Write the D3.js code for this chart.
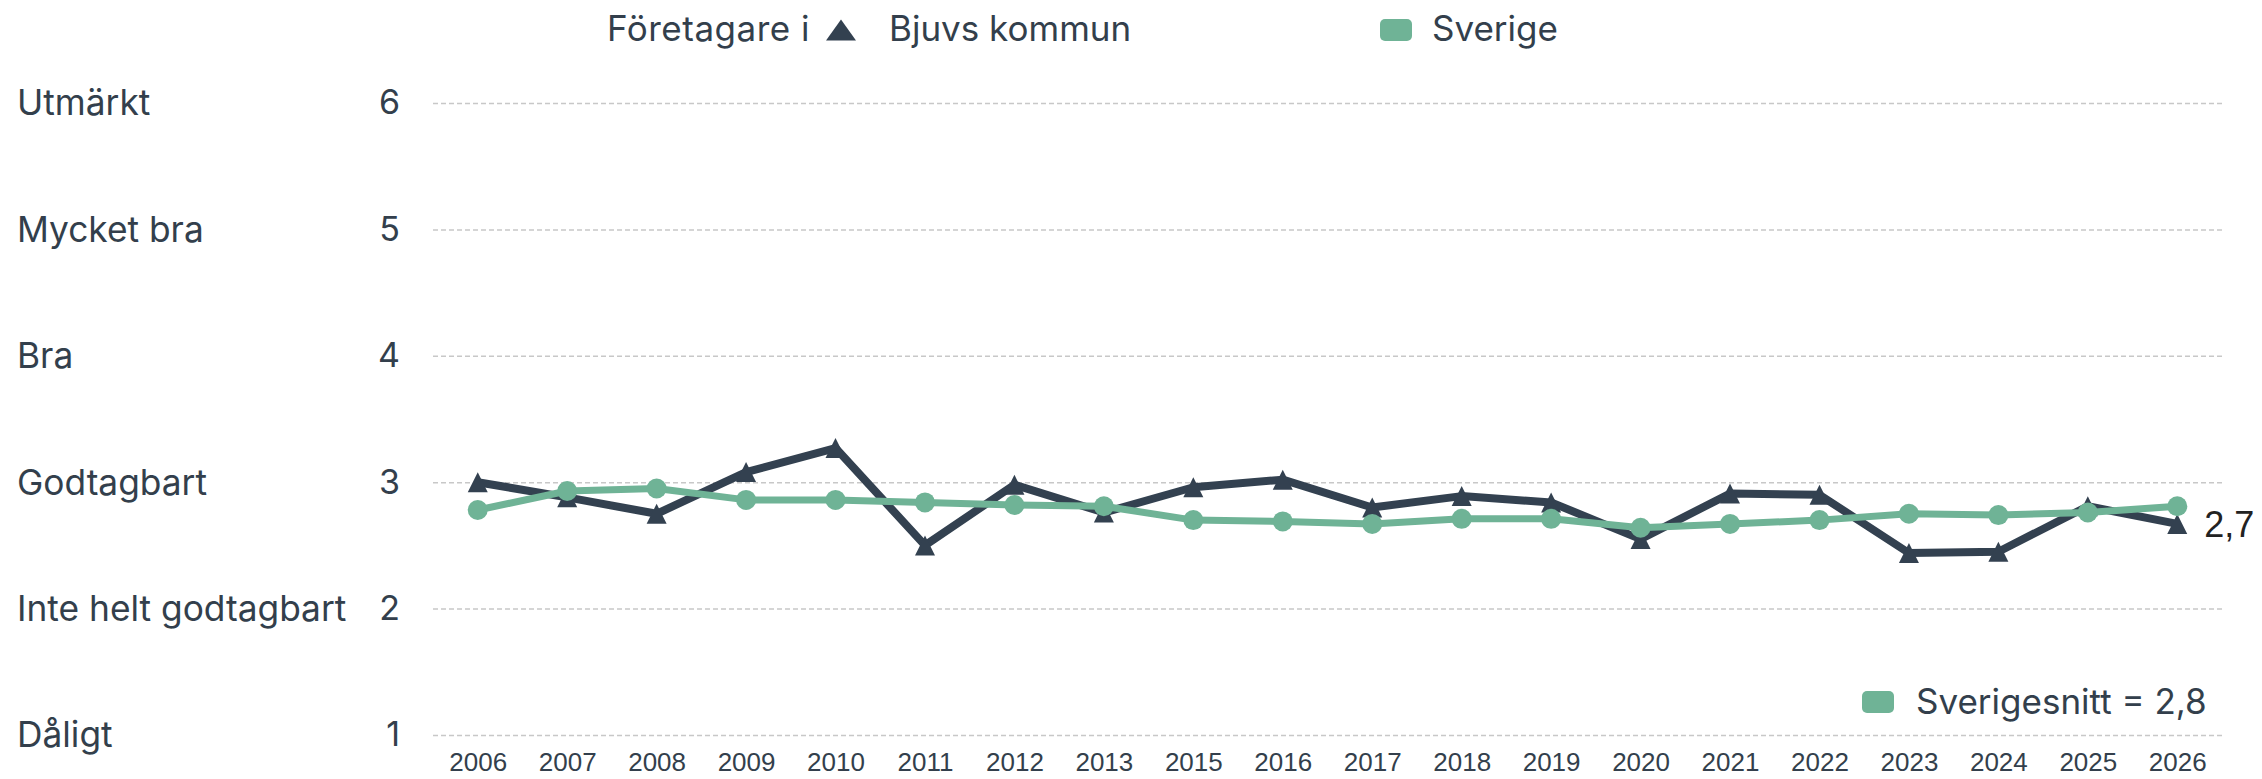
<!DOCTYPE html>
<html>
<head>
<meta charset="utf-8">
<script src="https://cdn.jsdelivr.net/npm/d3@7"></script>
<style>
  body { margin: 0; background: #fff; }
  svg { display: block; }
</style>
</head>
<body>
<div id="chart"></div>
<script>
// years on the x axis (2014 is missing in the source)
const years = ["2006", "2007", "2008", "2009", "2010", "2011", "2012", "2013", "2015", "2016",
               "2017", "2018", "2019", "2020", "2021", "2022", "2023", "2024", "2025", "2026"];

// Företagare i Bjuvs kommun
const bjuv = [3.00, 2.88, 2.75, 3.08, 3.27, 2.50, 2.98, 2.76, 2.96, 3.02,
              2.80, 2.89, 2.84, 2.55, 2.91, 2.90, 2.44, 2.45, 2.81, 2.67];

// Sverige
const sverige = [2.78, 2.93, 2.95, 2.86, 2.86, 2.84, 2.82, 2.81, 2.70, 2.69,
                 2.67, 2.71, 2.71, 2.64, 2.67, 2.70, 2.75, 2.74, 2.76, 2.81];

const yTicks = [1, 2, 3, 4, 5, 6];
const yLabels = ["Dåligt", "Inte helt godtagbart", "Godtagbart", "Bra", "Mycket bra", "Utmärkt"];

const lastLabel = "2,7";
const avgLabel = "Sverigesnitt = 2,8";

const width = 2262,
      height = 779,
      margin = ({ top: 103, right: 40, bottom: 44, left: 433 });

const dark = "#334150",
      green = "#6fb396",
      textCol = "#333f4c";

let svg = d3.select("#chart")
    .append("svg")
    .attr("width", width)
    .attr("height", height);

let x = d3.scalePoint()
    .domain(years)
    .range([margin.left, width - margin.right])
    .padding(0.5);

let y = d3.scaleLinear()
    .domain([1, 6])
    .range([height - margin.bottom, margin.top]);

const plotW = width - margin.right - margin.left;

// grid lines + numeric tick labels
let yAxis = svg.append("g")
    .attr("transform", `translate(${width - margin.right},0)`)
    .call(d3.axisLeft(y).tickValues(yTicks).tickSize(plotW).tickPadding(33).tickFormat(d3.format("d")));
yAxis.select(".domain").remove();
yAxis.selectAll("line")
    .attr("stroke", "#c8c8c8")
    .attr("stroke-width", 1.5)
    .attr("stroke-dasharray", "5,3");
yAxis.selectAll("text")
    .attr("fill", textCol)
    .style("font-family", "Inter, 'Open Sans', sans-serif")
    .style("font-size", "34px");

// category names on the far left
svg.append("g")
    .selectAll("text")
    .data(yTicks)
    .join("text")
    .attr("x", 17)
    .attr("y", d => y(d))
    .attr("dy", "0.35em")
    .attr("fill", textCol)
    .style("font-family", "Inter, 'Open Sans', sans-serif")
    .style("font-size", "35.3px")
    .text((d, i) => yLabels[i]);

// x axis labels
let xAxis = svg.append("g")
    .attr("transform", `translate(0,${height - margin.bottom})`)
    .call(d3.axisBottom(x).tickSize(0).tickPadding(18));
xAxis.select(".domain").remove();
xAxis.selectAll("text")
    .attr("fill", textCol)
    .style("font-family", "'Liberation Sans', Arial, sans-serif")
    .style("font-size", "26px");

let line = d3.line()
    .x((d, i) => x(years[i]))
    .y(d => y(d));

// Bjuv series
svg.append("path")
    .datum(bjuv)
    .attr("fill", "none")
    .attr("stroke", dark)
    .attr("stroke-width", 8)
    .attr("stroke-linejoin", "round")
    .attr("d", line);

svg.append("g")
    .selectAll("path")
    .data(bjuv)
    .join("path")
    .attr("fill", dark)
    .attr("d", "M0,-10L10,10L-10,10Z")
    .attr("transform", (d, i) => `translate(${x(years[i])},${y(d)})`);

// Sverige series (drawn on top)
svg.append("path")
    .datum(sverige)
    .attr("fill", "none")
    .attr("stroke", green)
    .attr("stroke-width", 7)
    .attr("stroke-linejoin", "round")
    .attr("d", line);

svg.append("g")
    .selectAll("circle")
    .data(sverige)
    .join("circle")
    .attr("fill", green)
    .attr("cx", (d, i) => x(years[i]))
    .attr("cy", d => y(d))
    .attr("r", 10);

// end label for the last Bjuv value
svg.append("text")
    .attr("x", x(years[years.length - 1]) + 27)
    .attr("y", y(bjuv[bjuv.length - 1]))
    .attr("dy", "0.35em")
    .attr("fill", "#222")
    .style("font-family", "'Liberation Sans', Arial, sans-serif")
    .style("font-size", "36px")
    .text(lastLabel);

// top legend
let legend = svg.append("g")
    .style("font-family", "Inter, 'Open Sans', sans-serif")
    .style("font-size", "35px")
    .attr("fill", textCol);

legend.append("text").attr("x", 607).attr("y", 29).attr("dy", "0.35em")
    .style("letter-spacing", "0.5px").text("Företagare i");
legend.append("path")
    .attr("d", "M0,-10.5L15,10.5L-15,10.5Z")
    .attr("fill", dark)
    .attr("transform", "translate(841,30)");
legend.append("text").attr("x", 889).attr("y", 29).attr("dy", "0.35em").text("Bjuvs kommun");

legend.append("rect")
    .attr("x", 1380).attr("y", 19).attr("width", 32).attr("height", 22).attr("rx", 5)
    .attr("fill", green);
legend.append("text").attr("x", 1432).attr("y", 29).attr("dy", "0.35em").text("Sverige");

// average legend bottom right
legend.append("rect")
    .attr("x", 1862).attr("y", 691).attr("width", 32).attr("height", 22).attr("rx", 5)
    .attr("fill", green);
legend.append("text").attr("x", 1916).attr("y", 702).attr("dy", "0.35em").text(avgLabel);
</script>
</body>
</html>
